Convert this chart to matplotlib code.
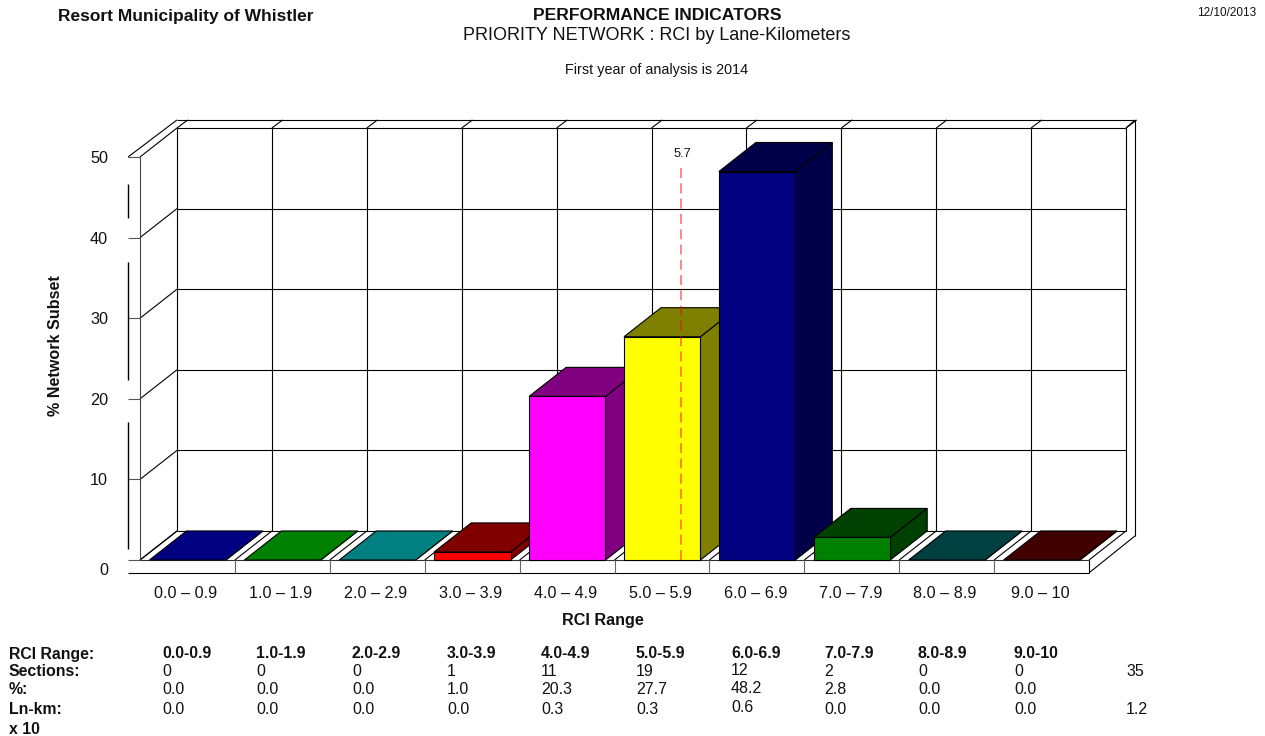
import matplotlib
matplotlib.use('Agg')
import matplotlib.pyplot as plt
from matplotlib.transforms import ScaledTranslation

plt.rcParams['font.family'] = ['Liberation Sans', 'DejaVu Sans']

# RCI summary values
range_labels = ['0.0 – 0.9', '1.0 – 1.9', '2.0 – 2.9', '3.0 – 3.9', '4.0 – 4.9',
                '5.0 – 5.9', '6.0 – 6.9', '7.0 – 7.9', '8.0 – 8.9', '9.0 – 10']
range_heads = ['0.0-0.9', '1.0-1.9', '2.0-2.9', '3.0-3.9', '4.0-4.9',
               '5.0-5.9', '6.0-6.9', '7.0-7.9', '8.0-8.9', '9.0-10']
sections = ['0', '0', '0', '1', '11', '19', '12', '2', '0', '0']
percents = [0.0, 0.0, 0.0, 1.0, 20.3, 27.7, 48.2, 2.8, 0.0, 0.0]
ln_km = ['0.0', '0.0', '0.0', '0.0', '0.3', '0.3', '0.6', '0.0', '0.0', '0.0']
sections_total = '35'
ln_km_total = '1.2'
average_rci = 5.7

front_colors = ['#0000ff', '#00ff00', '#00ffff', '#ff0000', '#ff00ff',
                '#ffff00', '#000080', '#008000', '#008080', '#800000']
shade_colors = ['#000080', '#008000', '#008080', '#800000', '#800080',
                '#808000', '#000048', '#004000', '#004040', '#400000']

W, H = 1265, 736
PX_X = 94.9       # pixels per category
PX_Y = 8.06       # pixels per percent
DX, DY = 0.39, 3.6       # depth of the 3D box
SX, SY = 0.126, 1.6      # thickness of the outer rim
BAR_GAP, BAR_W = 0.10, 0.805

fig = plt.figure(figsize=(W / 100, H / 100), dpi=100)
ax = fig.add_axes([140 / W, 1 - 560 / H, 10 * PX_X / W, 50 * PX_Y / H])
ax.set_xlim(0, 10)
ax.set_ylim(0, 50)
for s in ax.spines.values():
    s.set_visible(False)
ax.patch.set_visible(False)


def seg(xs, ys, lw=0.8, color='black', z=1):
    ax.plot(xs, ys, color=color, lw=lw, zorder=z, clip_on=False, solid_capstyle='butt')


# back wall and grid
for v in range(0, 60, 10):
    seg([DX, 10 + DX], [v + DY, v + DY])
    seg([0, DX], [v, v + DY])
    seg([-SX, 0], [v, v], color='#555555')
for i in range(11):
    seg([i + DX, i + DX], [DY, 50 + DY])
    seg([i + DX, i + DX + SX * 0.9], [50 + DY, 50 + DY + 1.0])
    seg([i, i + DX], [0, DY])
seg([0, 0], [0, 50], color='#444444')

# outer rim of the box
seg([-SX, -SX + DX + SX], [50, 50 + DY + 1.0])
seg([-SX + DX + SX, 10 + DX + SX - 0.03], [50 + DY + 1.0, 50 + DY + 1.0])
seg([10 + DX + SX - 0.03, 10 + DX + SX - 0.03], [50 + DY + 1.0, DY - 0.6])
seg([10 + DX + SX - 0.03, 10], [DY - 0.6, -SY])
seg([10 + DX, 10 + DX + SX - 0.03], [50 + DY, 50 + DY + 1.0])
seg([-SX, 10], [-SY, -SY])
seg([10, 10], [-SY, 0])
seg([0, 10], [0, 0], color='#333333')
for i in range(1, 10):
    seg([i, i], [-SY, 0], color='#666666')
for y0, y1 in [(46.65, 42.4), (37.0, 22.3), (17.1, 1.4)]:
    seg([-SX - 0.005, -SX - 0.005], [y0, y1], lw=1.0)

# bars: front face through bar(), depth faces behind it
for i, v in enumerate(percents):
    x0 = i + BAR_GAP
    x1 = x0 + BAR_W
    z = 3 + i
    ax.fill([x1, x1 + DX, x1 + DX, x1], [0, DY, v + DY, v], facecolor=shade_colors[i],
            edgecolor='black', lw=0.8, zorder=z, clip_on=False)
    ax.fill([x0, x1, x1 + DX, x0 + DX], [v, v, v + DY, v + DY], facecolor=shade_colors[i],
            edgecolor='black', lw=0.8, zorder=z, clip_on=False)
    if v > 0:
        ax.bar(x0, v, width=BAR_W, align='edge', color=front_colors[i], edgecolor='black',
               lw=0.8, zorder=z + 0.5, clip_on=False)

# average RCI marker
ax.plot([average_rci, average_rci], [0, 48.8], color='#ff0000', alpha=0.6, lw=1.1,
        dashes=(6.5, 3.5), zorder=20, clip_on=False)
ax.text(average_rci + 0.015, 50.4, '%.1f' % average_rci, ha='center', va='center',
        fontsize=9.3, color='#111111', zorder=21)

# axis labels
ax.set_xticks([i + 0.5 for i in range(10)])
ax.set_xticklabels(range_labels, fontsize=11.6)
ax.set_yticks(range(0, 60, 10))
ax.tick_params(axis='y', length=0, labelsize=11.7, colors='#111111', pad=23)
ax.tick_params(axis='x', length=0, labelsize=11.6, colors='#111111', pad=19)
for lab in ax.get_xticklabels():
    lab.set_transform(lab.get_transform() + ScaledTranslation(-1.5 / 100, 0, fig.dpi_scale_trans))
ax.get_yticklabels()[0].set_transform(
    ax.get_yticklabels()[0].get_transform() + ScaledTranslation(0, -9 / 100, fig.dpi_scale_trans))


def txt(x, y, s, size=10, weight='normal', ha='left'):
    fig.text(x / W, 1 - y / H, s, fontsize=size, fontweight=weight, ha=ha, va='center',
             color='#111111')


txt(602.5, 621, 'RCI Range', size=11.6, weight='bold', ha='center')
fig.text(56 / W, 1 - 346 / H, '% Network Subset', fontsize=11.6, fontweight='bold', rotation=90,
         ha='center', va='center', color='#111111')

# header
txt(58, 16, 'Resort Municipality of Whistler', size=12.5, weight='bold')
txt(657, 15, 'PERFORMANCE INDICATORS', size=12.6, weight='bold', ha='center')
txt(657, 35, 'PRIORITY NETWORK : RCI by Lane-Kilometers', size=13, ha='center')
txt(657, 70, 'First year of analysis is 2014', size=10.4, ha='center')
txt(1256, 13, '12/10/2013', size=8.5, ha='right')

# summary table under the chart
col_x = [162, 256, 352, 447, 541, 636, 731, 824, 918, 1014]
txt(9, 654, 'RCI Range:', size=11.4, weight='bold')
txt(9, 672, 'Sections:', size=11.4, weight='bold')
txt(9, 690, '%:', size=11.4, weight='bold')
txt(9, 709, 'Ln-km:', size=11.4, weight='bold')
txt(9, 729, 'x 10', size=11.4, weight='bold')
for i, cx in enumerate(col_x):
    nudge = -1.5 if i == 6 else 0
    txt(cx, 653, range_heads[i], size=11.4, weight='bold')
    txt(cx, 672 + nudge, sections[i], size=11.5)
    txt(cx, 690 + nudge, '%.1f' % percents[i], size=11.5)
    txt(cx, 709 + nudge, ln_km[i], size=11.5)
txt(1126, 672, sections_total, size=11.5)
txt(1126, 709, ln_km_total, size=11.5)

fig.savefig('out.png', dpi=100)
